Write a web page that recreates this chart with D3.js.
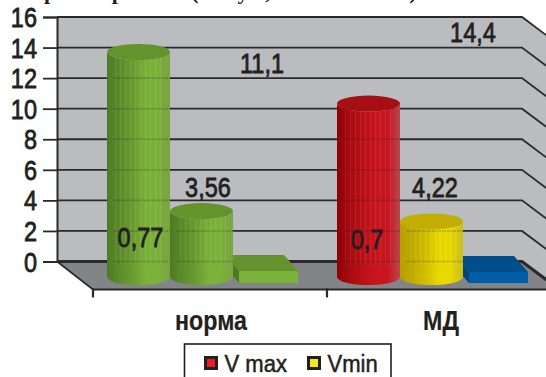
<!DOCTYPE html>
<html>
<head>
<meta charset="utf-8">
<script src="https://cdn.jsdelivr.net/npm/d3@7"></script>
<style>
  html, body { margin: 0; padding: 0; background: #fff; overflow: hidden; }
  svg { display: block; }
  text { font-family: "Liberation Sans", Arial, sans-serif; fill: #231f20; }
</style>
</head>
<body>
<div id="chart"></div>
<script>
// Chart content
const categories = ["норма", "МД"];
const seriesNames = ["V max", "Vmin", "V3"];
const normaValues = [14.4, 4.22, 0.77];
const mdValues = [11.1, 3.56, 0.7];
const yTicks = [0, 2, 4, 6, 8, 10, 12, 14, 16];
const legendEntries = ["V max", "Vmin"];
const clippedTitleGlyphs = ["р", "р", "(", "у", ",", ")"];

const W = 546, H = 377;
const svg = d3.select("#chart").append("svg").attr("width", W).attr("height", H);
const defs = svg.append("defs");

// Scales: the axis runs along the back wall, the marks stand on the floor.
const y = d3.scaleLinear().domain([0, 16]).range([261.5, 17]);
const markHeight = d3.scaleLinear().domain([0, 16]).range([0, 250]);
const xTick = d3.scaleBand().domain(categories).range([93, 561]);
const xGroup = d3.scaleBand().domain(categories).range([107, 567]);
const xMember = d3.scaleBand().domain(seriesNames).range([0, 189]);
const valuesByCategory = { "норма": normaValues, "МД": mdValues };

const depth = { dx: 36, dy: 27 };
const wallLeft = 57, wallRight = 522;
const cylinderBase = 277, boxBase = 283;
const rx = 31.5, ry = 8;

// Palette per category and series
const palette = {
  "норма": [
    { top: "#64922c", stops: ["#4f7a25", "#5b8a2a", "#6c9c32", "#7ab239", "#7cb23a", "#7ba344"] },
    { top: "#64922c", stops: ["#4f7a25", "#5b8a2a", "#6c9c32", "#7ab239", "#7cb23a", "#7ba344"] },
    { top: "#64922c", front: "#7ab239", side: "#4f7a25" }
  ],
  "МД": [
    { top: "#a80f14", stops: ["#8e0004", "#a60a10", "#bb1219", "#c8161f", "#c8161f", "#b9474c"] },
    { top: "#c2ae00", stops: ["#b4a100", "#bfab00", "#d3c000", "#e8d900", "#e8d900", "#c9bc20"] },
    { top: "#004f8a", front: "#005ea6", side: "#00447a" }
  ]
};

// Walls and floor
const poly = pts => "M" + pts.map(p => p.join(",")).join("L") + "Z";
svg.append("path").attr("fill", "#bbbcc0")
  .attr("d", poly([[wallLeft, y(16)], [wallRight, y(16)], [wallRight + depth.dx, y(16) + depth.dy],
                   [wallRight + depth.dx, y(0) + depth.dy], [wallRight, y(0)], [wallLeft, y(0)]]));
svg.append("path").attr("fill", "#838488")
  .attr("d", poly([[wallLeft, y(0)], [wallRight, y(0)], [wallRight + depth.dx, y(0) + depth.dy + 1],
                   [wallLeft + depth.dx, y(0) + depth.dy + 1]]));

// Gridlines continue on to the side wall
svg.append("g").selectAll("path").data(yTicks).join("path")
  .attr("fill", "none").attr("stroke", "#2a2a2c")
  .attr("stroke-width", d => d === 0 ? 3 : 1.8)
  .attr("d", d => `M${wallLeft},${y(d)}L${wallRight},${y(d)}L${wallRight + depth.dx},${y(d) + depth.dy}`);

// Y axis with outward ticks
const axisG = svg.append("g").attr("transform", `translate(${wallLeft},0)`)
  .call(d3.axisLeft(y).tickValues(yTicks).tickSize(14).tickPadding(6));
axisG.select(".domain").attr("stroke", "#2a2a2c").attr("stroke-width", 2);
axisG.selectAll(".tick line").attr("stroke", "#2a2a2c").attr("stroke-width", 1.8);
axisG.selectAll(".tick text").remove();

function condensed(sel, size, squeeze, anchor, stroke = 0.8) {
  return sel.style("font-size", size + "px").attr("text-anchor", anchor)
    .style("stroke", "#231f20").style("stroke-width", stroke)
    .attr("transform", function () {
      const d = this.__pos;
      return `translate(${d[0]},${d[1]}) scale(${squeeze},1)`;
    });
}

svg.append("g").selectAll("text").data(yTicks).join("text")
  .text(d => d)
  .each(function (d) { this.__pos = [37, y(d) + 10]; })
  .call(condensed, 28, 0.84, "end");

// Floor edges and category ticks
svg.append("path").attr("fill", "none").attr("stroke", "#2a2a2c").attr("stroke-width", 1.6)
  .attr("d", `M${wallLeft},${y(0)}L${wallLeft + depth.dx},${y(0) + depth.dy + 1}`);
svg.append("line").attr("x1", wallLeft + depth.dx).attr("x2", W)
  .attr("y1", y(0) + depth.dy + 1).attr("y2", y(0) + depth.dy + 1)
  .attr("stroke", "#2a2a2c").attr("stroke-width", 2);
svg.append("g").selectAll("line").data(categories).join("line")
  .attr("x1", d => xTick(d)).attr("x2", d => xTick(d))
  .attr("y1", y(0) + depth.dy).attr("y2", y(0) + depth.dy + 9)
  .attr("stroke", "#2a2a2c").attr("stroke-width", 2.2);

// Fine vertical ribbing used on the cylinder bodies
const rib = defs.append("pattern").attr("id", "rib").attr("patternUnits", "userSpaceOnUse")
  .attr("width", 5).attr("height", 10);
rib.append("rect").attr("x", 0).attr("width", 1).attr("height", 10).attr("fill", "#fff").attr("opacity", 0.07);
rib.append("rect").attr("x", 3).attr("width", 1).attr("height", 10).attr("fill", "#000").attr("opacity", 0.03);

const gradientOffsets = [0, 0.18, 0.42, 0.62, 0.8, 1];
const marks = categories.flatMap(cat => seriesNames.map((s, j) => ({
  cat, series: s, j, value: valuesByCategory[cat][j], colour: palette[cat][j]
})));

const clipCount = { n: 0 };
function drawBox(m) {
  const w = 59, side = { dx: 14, dy: 16 };
  const left = xGroup(m.cat) + xMember(m.series) + 6;
  const h = markHeight(m.value);
  const top = boxBase - h;
  const g = svg.append("g");
  g.append("path").attr("fill", m.colour.top)
    .attr("d", poly([[left - side.dx, top - side.dy], [left + w - side.dx, top - side.dy], [left + w, top], [left, top]]));
  g.append("path").attr("fill", m.colour.side)
    .attr("d", poly([[left - side.dx, top - side.dy], [left, top], [left, boxBase], [left - side.dx, boxBase - side.dy]]));
  g.append("path").attr("fill", m.colour.front)
    .attr("d", poly([[left, top], [left + w, top], [left + w, boxBase], [left, boxBase]]));
  m.anchor = [left + w / 2, top];
}

function drawCylinder(m) {
  const id = "cyl" + (clipCount.n++);
  const left = xGroup(m.cat) + xMember(m.series);
  const right = left + rx * 2;
  const h = markHeight(m.value);
  const top = cylinderBase - h;
  const grad = defs.append("linearGradient").attr("id", id + "g");
  m.colour.stops.forEach((c, i) => grad.append("stop").attr("offset", gradientOffsets[i]).attr("stop-color", c));

  const body = `M${left},${top}L${left},${cylinderBase}A${rx},${ry} 0 0 0 ${right},${cylinderBase}L${right},${top}A${rx},${ry} 0 0 1 ${left},${top}Z`;
  defs.append("clipPath").attr("id", id + "c").append("path").attr("d", body);

  const g = svg.append("g");
  g.append("path").attr("d", body).attr("fill", `url(#${id}g)`);
  g.append("rect").attr("clip-path", `url(#${id}c)`)
    .attr("x", left + 6).attr("width", rx * 2 - 12)
    .attr("y", top).attr("height", Math.max(0, h - 12)).attr("fill", "url(#rib)");

  // Back-wall gridlines ghost through the translucent body
  g.append("g").attr("clip-path", `url(#${id}c)`).selectAll("line")
    .data(yTicks.filter(t => y(t) > top + ry))
    .join("line")
    .attr("x1", left + 7).attr("x2", right)
    .attr("y1", t => y(t)).attr("y2", t => y(t))
    .attr("stroke", "#1f1f1f").attr("stroke-opacity", 0.3)
    .attr("stroke-width", 1.6).attr("stroke-dasharray", "1.5 1");

  g.append("ellipse").attr("cx", left + rx).attr("cy", top).attr("rx", rx).attr("ry", ry)
    .attr("fill", m.colour.top);
  m.anchor = [left + rx, top];
}

// Flat boxes go first so each neighbouring cylinder sits in front of them
marks.filter(m => m.j === 2).forEach(drawBox);
marks.filter(m => m.j !== 2).forEach(drawCylinder);

// Value labels sit well away from their marks, offset from each mark's top
const labelOffsets = [[334.5, -10], [233.5, -14], [-128, -24], [-106.5, -31], [-223.5, -24], [-131.5, -23]];
svg.append("g").selectAll("text").data(marks).join("text")
  .text(m => String(m.value).replace(".", ","))
  .each(function (m, i) {
    this.__pos = [m.anchor[0] + labelOffsets[i][0], m.anchor[1] + labelOffsets[i][1]];
  })
  .call(condensed, 28, 0.84, "middle");

// Category names
svg.append("g").selectAll("text").data(categories).join("text")
  .text(d => d)
  .each(function (d) { this.__pos = [xGroup(d) + xGroup.bandwidth() / 2 - 11, 330]; })
  .style("font-weight", "bold")
  .call(condensed, 27, 0.86, "middle", 0.2);

// Legend frame runs past the bottom edge
svg.append("rect").attr("x", 184.5).attr("y", 344).attr("width", 206.5).attr("height", 50)
  .attr("fill", "#fff").attr("stroke", "#231f20").attr("stroke-width", 1.6);
const legendSwatch = ["#ed1c24", "#f5e90d"];
const legendX = d3.scalePoint().domain(legendEntries).range([205.5, 308.5]);
const legend = svg.append("g").selectAll("g").data(legendEntries).join("g");
legend.append("rect")
  .attr("x", d => legendX(d)).attr("y", 357.5).attr("width", 11).attr("height", 11)
  .attr("fill", (d, i) => legendSwatch[i]).attr("stroke", "#231f20").attr("stroke-width", 3);
legend.append("text").text(d => d)
  .each(function (d) { this.__pos = [legendX(d) + 19, 371.5]; })
  .call(condensed, 24, 0.92, "start", 0.5);

// Lower edge of the page heading, cut by the top of the frame
const headingSpots = [0, 0.187, 0.399, 0.532, 0.6, 1];
svg.append("g").selectAll("text").data(clippedTitleGlyphs).join("text")
  .text(d => d)
  .attr("x", (d, i) => 50 + (413 - 50) * headingSpots[i]).attr("y", -1)
  .attr("text-anchor", "middle")
  .style("font-family", '"Liberation Serif", serif')
  .style("font-weight", "bold").style("font-size", "22px");
</script>
</body>
</html>
